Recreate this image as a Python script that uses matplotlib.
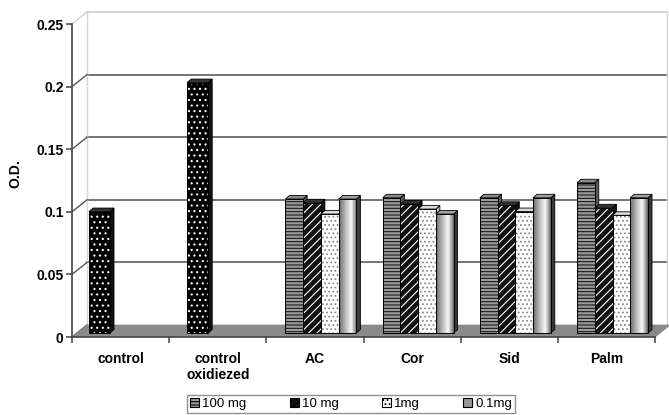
import numpy as np
import matplotlib
matplotlib.use("Agg")
import matplotlib.pyplot as plt
from matplotlib.patches import Rectangle, Polygon, Patch

plt.rcParams['font.family'] = ['Liberation Sans', 'DejaVu Sans']
plt.rcParams['hatch.linewidth'] = 0.8

# data
categories = ['control', 'control\noxidiezed', 'AC', 'Cor', 'Sid', 'Palm']
control_values = [0.097, 0.200]          # single bars for the two controls
series_names = ['100 mg', '10 mg', '1mg', '0.1mg']
mg100 = [0.107, 0.108, 0.108, 0.120]
mg10 = [0.104, 0.103, 0.102, 0.100]
mg1 = [0.095, 0.099, 0.097, 0.094]
mg01 = [0.107, 0.095, 0.108, 0.108]
yticks = [0, 0.05, 0.1, 0.15, 0.2, 0.25]

W, H = 669, 415
fig = plt.figure(figsize=(W / 100, H / 100), dpi=100)

# pixel -> data scale
PX = 1 / 97.2
PY = 1 / 1252
x0_px, y0_px, top_px = 72, 337, 10
ax = fig.add_axes([x0_px / W, (H - y0_px) / H, (W - x0_px) / W, (y0_px - top_px) / H])
ax.set_xlim(0, (W - x0_px) * PX)
ax.set_ylim(0, (y0_px - top_px) * PY)
for s in ax.spines.values():
    s.set_visible(False)
ax.patch.set_visible(False)

# 3d depth of the walls
BX, BY = 15 * PX, 12 * PY
xr = (667 - x0_px) * PX

# floor
ax.add_patch(Polygon([(0, 0), (6, 0), (6 + BX, BY), (BX, BY)], closed=True,
                     facecolor='#8a8a8a', edgecolor='#8a8a8a', lw=0.5, zorder=1))
# back wall grid and edges
for t in yticks:
    col = '#cfcfcf' if t in (0, 0.25) else '#6a6a6a'
    if t > 0:
        ax.plot([BX, xr], [t + BY, t + BY], color=col, lw=1.3, zorder=0.5)
    ax.plot([0, BX], [t, t + BY], color='#555555' if t < 0.25 else '#cfcfcf', lw=1.0, zorder=0.6)
ax.plot([BX, BX], [BY, 0.25 + BY], color='#d5d5d5', lw=1.0, zorder=0.5)
ax.plot([xr, xr], [BY, 0.25 + BY], color='#d5d5d5', lw=1.0, zorder=0.5)

# front axes
ax.plot([0, 0], [0, 0.25], color='#444444', lw=1.2, zorder=5, clip_on=False)
ax.plot([0, 6], [0, 0], color='#444444', lw=1.2, zorder=5, clip_on=False)
ax.set_yticks(yticks)
ax.set_yticklabels(['0', '0.05', '0.1', '0.15', '0.2', '0.25'], fontweight='bold', fontsize=10)
ax.tick_params(axis='y', length=4, width=1.1, color='#444444', pad=2)
ax.set_xticks(np.arange(6) + 0.5)
ax.set_xticklabels(categories, fontweight='bold', fontsize=10, linespacing=1.2)
ax.tick_params(axis='x', length=0, pad=11)
ax.set_xticks(np.arange(7), minor=True)
ax.tick_params(axis='x', which='minor', length=4, width=1.1, color='#444444')
ax.set_ylabel('O.D.', fontweight='bold', fontsize=10, labelpad=10)

BOT = 4 * PY
DX, DY = 4 * PX, 3.5 * PY

styles = {
    'control': dict(fc='black', hc='white', hatch='...', side='#111111', topc='#333333'),
    '100 mg': dict(fc='#9a9a9a', hc='#1a1a1a', hatch='-----', side='#5a5a5a', topc='#8a8a8a'),
    '10 mg': dict(fc='#111111', hc='white', hatch='////', side='#111111', topc='#333333'),
    '1mg': dict(fc='white', hc='#8a8a8a', hatch='....', side='#bdbdbd', topc='#dddddd'),
    '0.1mg': dict(fc=None, hc=None, hatch=None, side='#3a3a3a', topc='#a0a0a0'),
}

grad = np.interp(np.linspace(0, 1, 64), [0, 0.35, 0.68, 0.9, 1], [0.42, 0.72, 0.97, 0.6, 0.35])


def draw_bar(x, w, v, style):
    st = styles[style]
    b, t = BOT, BOT + v
    # side and top faces
    ax.add_patch(Polygon([(x + w, b), (x + w + DX, b + DY), (x + w + DX, t + DY), (x + w, t)],
                         closed=True, facecolor=st['side'], edgecolor='black', lw=0.6, zorder=3))
    ax.add_patch(Polygon([(x, t), (x + DX, t + DY), (x + w + DX, t + DY), (x + w, t)],
                         closed=True, facecolor=st['topc'], edgecolor='black', lw=0.6, zorder=3))
    if st['hatch'] is None:
        rect = Rectangle((x, b), w, v, facecolor='none', edgecolor='none', zorder=3)
        ax.add_patch(rect)
        im = ax.imshow(grad[None, :], cmap='gray', vmin=0, vmax=1, aspect='auto',
                       extent=[x, x + w, b, t], zorder=3, interpolation='bilinear')
        im.set_clip_path(rect)
    else:
        ax.bar(x, v, width=w, bottom=b, align='edge', color=st['fc'], edgecolor=st['hc'],
               hatch=st['hatch'], lw=0, zorder=3)
    ax.bar(x, v, width=w, bottom=b, align='edge', fill=False, edgecolor='black', lw=0.7, zorder=3)


# control bars
for i, v in enumerate(control_values):
    draw_bar(i + (17 + i) * PX, 21 * PX, v, 'control')

# treatment groups
bw = 17.75 * PX
for j, name in enumerate(categories[2:]):
    for k, (sname, vals) in enumerate(zip(series_names, [mg100, mg10, mg1, mg01])):
        draw_bar(j + 2 + 19 * PX + k * bw, bw, vals[j], sname)

# legend
handles = []
for sname in series_names:
    st = styles[sname]
    if st['hatch'] is None:
        handles.append(Patch(facecolor='#9a9a9a', edgecolor='black', lw=0.8))
    else:
        handles.append(Patch(facecolor=st['fc'], edgecolor='black', hatch=st['hatch'], lw=0.8))
leg = fig.legend(handles, series_names, loc='center', bbox_to_anchor=(351 / W, 1 - 404 / H),
                 ncol=4, fontsize=9.5, frameon=True, fancybox=False, handlelength=0.7,
                 handleheight=0.7, handletextpad=0.2, columnspacing=3.3, borderpad=0.2)
leg.get_frame().set_edgecolor('#777777')
leg.get_frame().set_linewidth(1.0)

fig.savefig('out.png', dpi=100)
